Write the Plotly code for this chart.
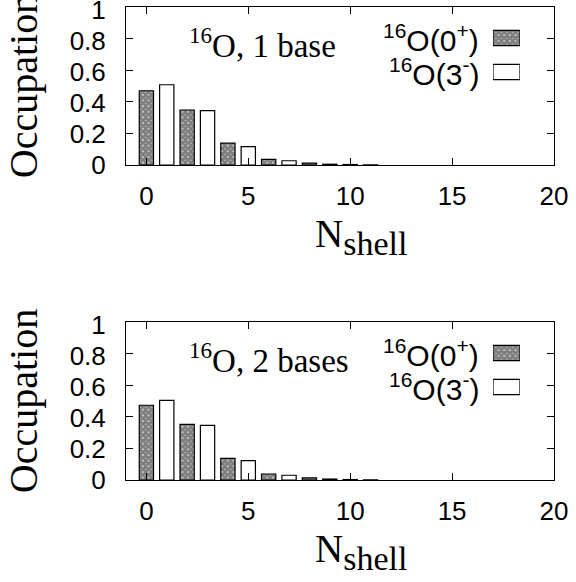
import plotly.graph_objects as go

# ---- data ----
n_even = [0, 2, 4, 6, 8, 10]
n_odd = [1, 3, 5, 7, 9, 11]
occ_0p_1base = [0.470, 0.348, 0.139, 0.036, 0.012, 0.003]
occ_3m_1base = [0.508, 0.344, 0.116, 0.027, 0.005, 0.001]
occ_0p_2base = [0.473, 0.352, 0.137, 0.038, 0.013, 0.003]
occ_3m_2base = [0.504, 0.346, 0.122, 0.030, 0.006, 0.001]
y_ticks = [0, 0.2, 0.4, 0.6, 0.8, 1]
y_ticktext = ["0", "0.2", "0.4", "0.6", "0.8", "1"]
x_ticks = [0, 5, 10, 15, 20]
panel_titles = ["<sup>16</sup>O, 1 base", "<sup>16</sup>O, 2 bases"]
legend_names = ["<sup>16</sup>O(0<sup>+</sup>)", "<sup>16</sup>O(3<sup>-</sup>)"]
x_title = "N<sub><span style='font-size:34px'>shell</span></sub>"
y_title = "Occupation"

W, H = 576, 582
SANS = "Liberation Sans, Arial, sans-serif"
SERIF = "Liberation Serif, Times New Roman, serif"

def px_x(p):
    return p / W

def px_y(p):
    return 1 - p / H

# panel frames (pixels)
panels = [
    dict(top=7, bottom=165, d0=occ_0p_1base, d1=occ_3m_1base),
    dict(top=322, bottom=480, d0=occ_0p_2base, d1=occ_3m_2base),
]
left, right = 126, 554

fig = go.Figure()
hatch = dict(shape="x", fgcolor="black", bgcolor="white", size=4, solidity=0.9)
tickfont = dict(family=SANS, size=26, color="black")

for i, p in enumerate(panels):
    b = i * 3
    xa, ya = ("x", "y") if i == 0 else ("x%d" % (b + 1), "y%d" % (b + 1))
    xk, yk = "x%d" % (b + 2), "y%d" % (b + 2)
    xo, yo = "x%d" % (b + 3), "y%d" % (b + 3)
    lay = lambda a: ("xaxis" if a[0] == "x" else "yaxis") + a[1:]

    fig.add_trace(go.Bar(x=n_even, y=p["d0"], width=0.7, xaxis=xa, yaxis=ya,
                         marker=dict(color="white", pattern=hatch,
                                     line=dict(color="black", width=1.2)),
                         showlegend=False))
    fig.add_trace(go.Bar(x=n_odd, y=p["d1"], width=0.7, xaxis=xa, yaxis=ya,
                         marker=dict(color="white",
                                     line=dict(color="black", width=1.2)),
                         showlegend=False))
    frame = dict(showline=True, linecolor="black", linewidth=1.2,
                 mirror="ticks", ticks="inside", ticklen=7,
                 tickcolor="black", showgrid=False, zeroline=False,
                 automargin=False, showticklabels=False)
    labels = dict(showline=False, ticks="outside", tickcolor="rgba(0,0,0,0)",
                  showgrid=False, zeroline=False, automargin=False,
                  ticklabeloverflow="allow", tickfont=tickfont, anchor="free")
    fig.update_layout(**{
        lay(xa): dict(frame, domain=[px_x(left), px_x(right)], range=[-1, 20],
                      tickvals=x_ticks, anchor=ya),
        lay(ya): dict(frame, domain=[px_y(p["bottom"]), px_y(p["top"])], range=[0, 1],
                      tickvals=y_ticks, anchor=xa),
        lay(xo): dict(labels, overlaying=xa, position=px_y(p["bottom"]), side="bottom",
                      range=[-1, 20], tickvals=x_ticks, ticklen=8),
        lay(yo): dict(labels, overlaying=ya, position=px_x(left), side="left",
                      range=[0, 1.02], tickvals=y_ticks, ticktext=y_ticktext, ticklen=15,
                      title=dict(text=y_title, font=dict(family=SERIF, size=40, color="black"),
                                 standoff=18)),
    })
    # invisible traces so the label axes are drawn
    fig.add_trace(go.Scatter(x=[None], y=[None], xaxis=xo, yaxis=ya, showlegend=False,
                             hoverinfo="skip"))
    fig.add_trace(go.Scatter(x=[None], y=[None], xaxis=xa, yaxis=yo, showlegend=False,
                             hoverinfo="skip"))
    # x-axis title (placed right of centre as in the original)
    fig.add_annotation(text=x_title, xref="paper", yref="paper",
                       x=px_x(361), y=px_y(p["bottom"] + 72), xanchor="center", yanchor="middle",
                       showarrow=False, font=dict(family=SERIF, size=39, color="black"))
    # legend keys drawn on a small key axis pair
    fig.add_trace(go.Bar(y=[1], x=[1], orientation="h", width=0.45, xaxis=xk, yaxis=yk,
                         marker=dict(color="white", pattern=hatch,
                                     line=dict(color="black", width=1.2)),
                         showlegend=False, hoverinfo="skip"))
    fig.add_trace(go.Bar(y=[0], x=[1], orientation="h", width=0.45, xaxis=xk, yaxis=yk,
                         marker=dict(color="white",
                                     line=dict(color="black", width=1.2)),
                         showlegend=False, hoverinfo="skip"))
    top = p["top"]
    fig.update_layout(**{
        lay(xk): dict(domain=[px_x(493), px_x(520)], range=[0, 1],
                      visible=False, fixedrange=True, automargin=False, anchor=yk),
        lay(yk): dict(domain=[px_y(top + 82), px_y(top + 14)], range=[-0.5, 1.5],
                      visible=False, fixedrange=True, anchor=xk, automargin=False),
    })
    # legend text
    for j, name in enumerate(legend_names):
        fig.add_annotation(text=name, xref="paper", yref="paper",
                           x=px_x(481), y=px_y(top + 31 + 34 * j), xanchor="right", yanchor="middle",
                           showarrow=False, font=dict(family=SANS, size=30, color="black"))
    fig.add_annotation(text=panel_titles[i], xref="paper", yref="paper",
                       x=px_x(187), y=px_y(top + 36), xanchor="left", yanchor="middle",
                       showarrow=False, font=dict(family=SERIF, size=33, color="black"))

fig.update_layout(width=W, height=H, margin=dict(l=0, r=0, t=0, b=0),
                  paper_bgcolor="white", plot_bgcolor="rgba(0,0,0,0)",
                  barmode="overlay", showlegend=False)

fig.write_html("out.html", config={"displayModeBar": False},
               post_script="document.body.style.margin='0';")
